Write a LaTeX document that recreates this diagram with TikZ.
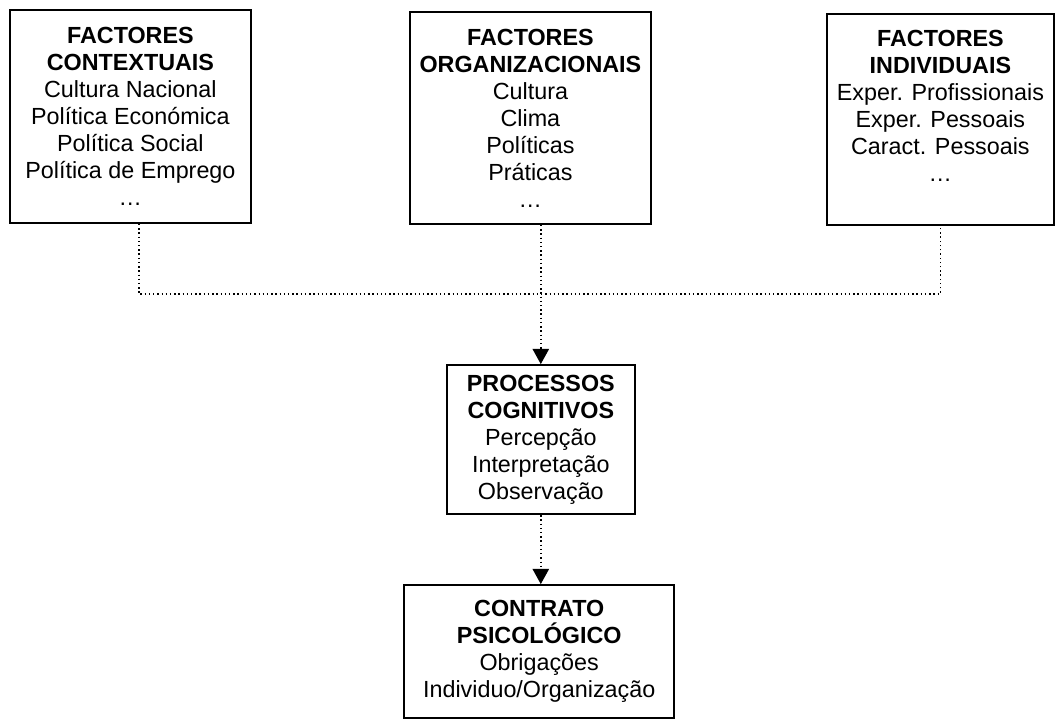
\documentclass[tikz,border=0pt]{standalone}
\usepackage{fontspec}
\setmainfont{Liberation Sans}
\usepackage{tikz}
\usetikzlibrary{arrows.meta,positioning}
\tikzset{
  box/.style={draw, line width=1.3pt, align=center, inner sep=0pt, fill=white, font=\fontsize{16.6}{19.2}\selectfont},
  link/.style={dotted, line width=1pt},
  arr/.style={link, -{Triangle[length=3.8mm, width=4.1mm]}},
}
\begin{document}
\begin{tikzpicture}
\useasboundingbox (0,0) rectangle (26.4,-18);
\node[box, minimum width=6.03cm, minimum height=5.33cm] (ctx) at (3.26,-2.91) {\textbf{FACTORES}\\\textbf{CONTEXTUAIS}\\Cultura Nacional\\Política Económica\\Política Social\\Política de Emprego\\…};
\node[box, minimum width=6.03cm, minimum height=5.3cm] (org) at (13.26,-2.95) {\textbf{FACTORES}\\\textbf{ORGANIZACIONAIS}\\Cultura\\Clima\\Políticas\\Práticas\\…};
\node[box, minimum width=5.68cm, minimum height=5.28cm] (ind) at (23.51,-2.99) {\textbf{FACTORES}\\\textbf{INDIVIDUAIS}\\Exper. Profissionais\\Exper. Pessoais\\Caract. Pessoais\\…\\\mbox{}};
\node[box, minimum width=4.7cm, minimum height=3.73cm] (proc) at (13.52,-10.99) {\textbf{PROCESSOS}\\\textbf{COGNITIVOS}\\Percepção\\Interpretação\\Observação};
\node[box, minimum width=6.75cm, minimum height=3.33cm] (contr) at (13.48,-16.29) {\textbf{CONTRATO}\\\textbf{PSICOLÓGICO}\\Obrigações\\Individuo/Organização};
% ligações
\coordinate (bus) at (13.48,-7.35);
\draw[link] ([xshift=2.1mm]ctx.south) |- (bus) -| (ind.south);
\draw[arr] (org.south -| proc.north) -- (proc.north);
\draw[arr] (proc.south) -- (proc.south |- contr.north);
\end{tikzpicture}
\end{document}
